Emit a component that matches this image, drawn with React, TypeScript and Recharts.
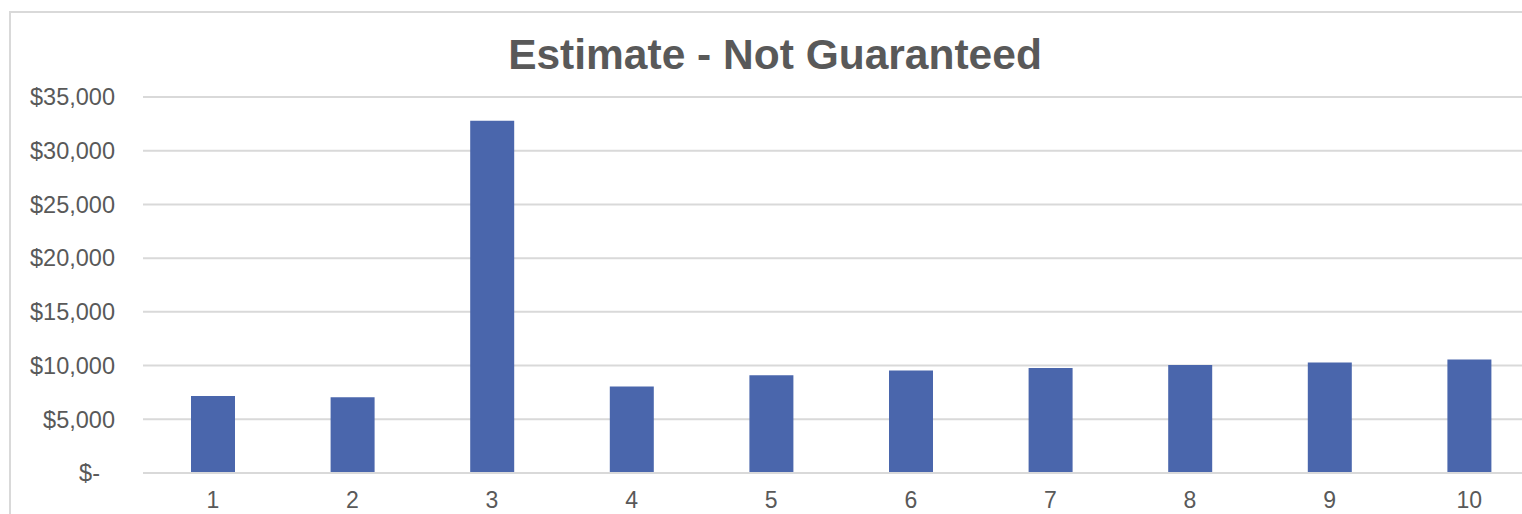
import { BarChart, Bar, XAxis, YAxis, CartesianGrid } from "recharts";

const periods = ["1", "2", "3", "4", "5", "6", "7", "8", "9", "10"];
const estimates = [7170, 7050, 32800, 8050, 9100, 9540, 9780, 10060, 10290, 10570];
const yTicks = [0, 5000, 10000, 15000, 20000, 25000, 30000, 35000];

const font = "'Liberation Sans', Arial, sans-serif";
const textColor = "#595959";
const gridColor = "#D9D9D9";

const data = periods.map((p, i) => ({ period: p, value: estimates[i] }));

function money(v: number) {
  if (v === 0) return "$-";
  return "$" + v.toLocaleString("en-US");
}

function YTick(props: any) {
  const { x, y, payload } = props;
  const isZero = payload.value === 0;
  return (
    <text
      x={isZero ? x - 15 : x}
      y={y}
      dy="0.355em"
      textAnchor="end"
      fill={textColor}
      fontSize={23.5}
      fontFamily={font}
    >
      {money(payload.value)}
    </text>
  );
}

export default function App() {
  return (
    <div
      style={{
        position: "absolute",
        left: 0,
        top: 0,
        width: 1522,
        height: 514,
        overflow: "hidden",
        background: "#fff",
      }}
    >
      <div
        style={{
          position: "absolute",
          left: 9,
          top: 11,
          width: 1560,
          height: 560,
          border: `2px solid ${gridColor}`,
          boxSizing: "border-box",
        }}
      />
      <div
        style={{
          position: "absolute",
          left: 0,
          top: 34,
          width: 1550,
          textAlign: "center",
          fontFamily: font,
          fontWeight: "bold",
          fontSize: 42.5,
          lineHeight: "42px",
          color: textColor,
        }}
      >
        Estimate - Not Guaranteed
      </div>
      <div style={{ position: "absolute", left: 0, top: 0 }}>
        <BarChart
          width={1560}
          height={514}
          data={data}
          margin={{ top: 97, right: 21, bottom: 0, left: 0 }}
        >
          <CartesianGrid vertical={false} stroke={gridColor} strokeWidth={2} />
          <XAxis
            dataKey="period"
            height={41}
            axisLine={{ stroke: gridColor, strokeWidth: 2 }}
            tickLine={false}
            tickSize={0}
            tickMargin={19}
            tick={{ fill: textColor, fontSize: 23, fontFamily: font }}
          />
          <YAxis
            width={143}
            domain={[0, 35000]}
            ticks={yTicks}
            axisLine={false}
            tickLine={false}
            tickSize={0}
            tickMargin={28}
            tick={<YTick />}
          />
          <Bar dataKey="value" fill="#4A66AC" barSize={44} isAnimationActive={false} />
        </BarChart>
      </div>
    </div>
  );
}
